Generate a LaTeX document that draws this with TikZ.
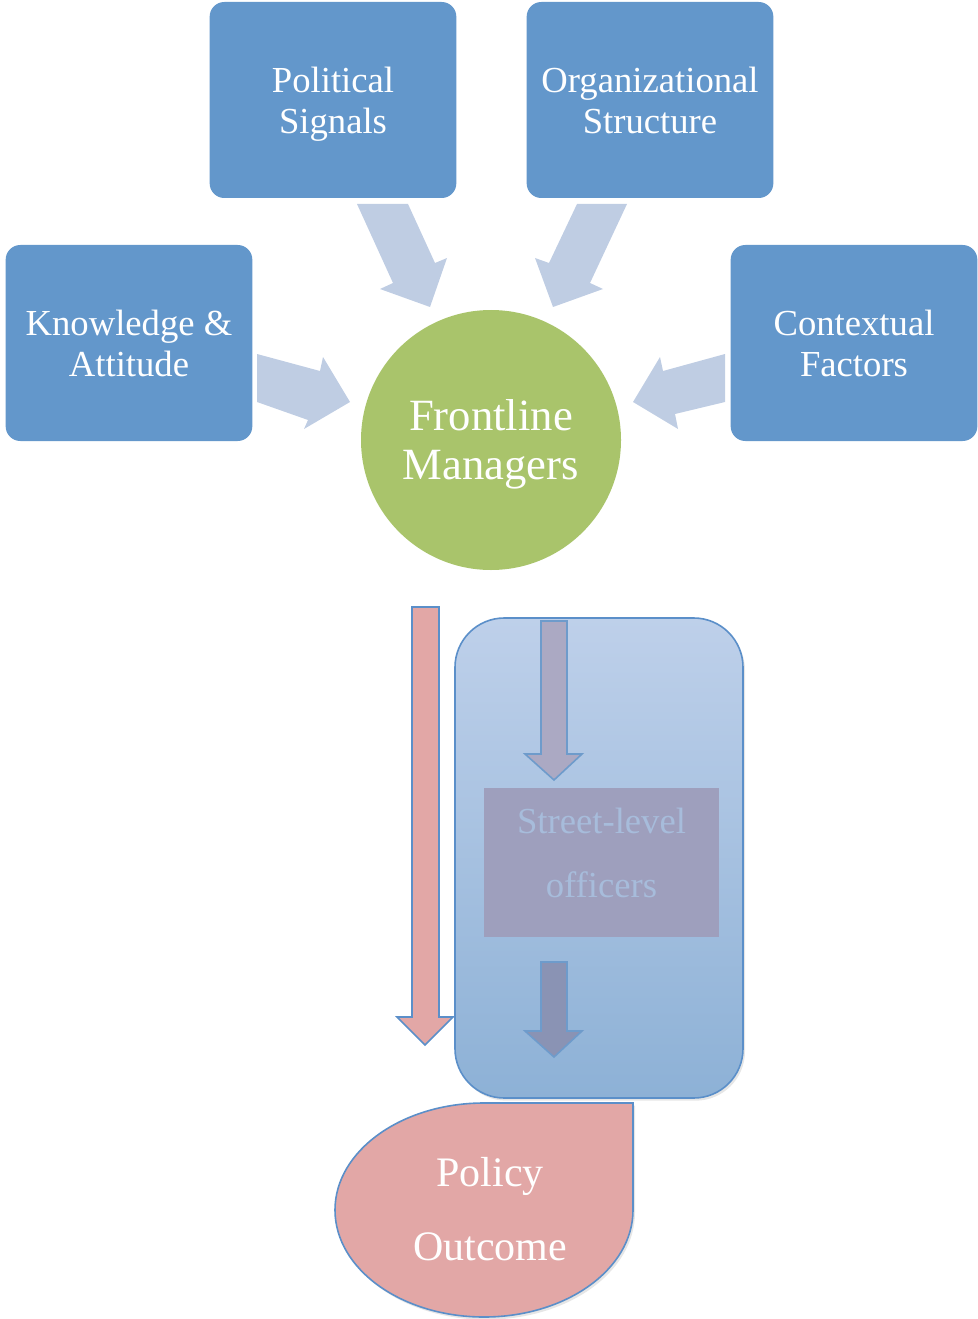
\documentclass[tikz,border=0pt]{standalone}
\usepackage{fontspec}
\setmainfont{Liberation Serif}
\usetikzlibrary{shadows}
\definecolor{boxblue}{HTML}{6397CB}
\definecolor{arrowblue}{HTML}{BFCDE3}
\definecolor{circgreen}{HTML}{A9C46B}
\definecolor{pinkfill}{HTML}{E2A7A6}
\definecolor{edgeblue}{HTML}{5B8FC9}
\definecolor{bigtop}{HTML}{BED0EA}
\definecolor{bigbot}{HTML}{8DB1D6}
\definecolor{innerA}{HTML}{ABA9C3}
\definecolor{innerB}{HTML}{8A93B4}
\definecolor{streetfill}{HTML}{9E9FBD}
\definecolor{streettext}{HTML}{A7BCDB}
\definecolor{inneredge}{HTML}{6E9BCB}
\tikzset{
  topbox/.style={rectangle, rounded corners=11pt, fill=boxblue, text=white,
    minimum width=185pt, minimum height=147pt, align=center, text depth=0pt,
    font=\fontsize{27.5}{30.75}\selectfont},
  blockarrow/.style={fill=arrowblue, draw=none},
  innerarrow/.style={draw=inneredge, line width=1.2pt, line join=miter}
}
\begin{document}
\begin{tikzpicture}[x=0.75pt,y=-0.75pt]
\useasboundingbox (0,0) rectangle (977,1319);

% top boxes
\node[topbox] (ps) at (333,100) {Political\\Signals};
\node[topbox] (os) at (650,100) {Organizational\\Structure};
\node[topbox] (ka) at (129,343) {Knowledge \&\\Attitude};
\node[topbox] (cf) at (854,343) {Contextual\\Factors};

% central circle
\node[circle, fill=circgreen, text=white, minimum size=195pt, inner sep=0pt, align=center,
  text depth=0pt, font=\fontsize{33.5}{36.75}\selectfont] (fm) at (491,440) {Frontline\\Managers};

% block arrows
\fill[blockarrow] (357,204) -- (408,204) -- (435,263) -- (447,258) -- (430,307) -- (380,289) -- (393,283) -- cycle;
\fill[blockarrow] (577,204) -- (627,204) -- (590,283) -- (603,289) -- (553,307) -- (535,258) -- (549,263) -- cycle;
\fill[blockarrow] (257,354) -- (320,371) -- (323,357) -- (350,402) -- (304,429) -- (308,420) -- (257,402) -- cycle;
\fill[blockarrow] (725,354) -- (663,371) -- (660,357) -- (633,402) -- (678,429) -- (675,414) -- (725,402) -- cycle;

% big rounded container
\node[draw=edgeblue, line width=1.2pt, rounded corners=37pt, top color=bigtop, bottom color=bigbot,
  minimum width=216pt, minimum height=360pt,
  drop shadow={shadow xshift=1.5pt, shadow yshift=-2pt, opacity=0.2}] (cont) at (599,858) {};

% pink long arrow
\draw[fill=pinkfill, draw=edgeblue, line width=1.2pt, line join=miter]
  (412,607) -- (439,607) -- (439,1017) -- (453,1017) -- (425,1045) -- (397,1017) -- (412,1017) -- cycle;

% inner arrows
\draw[innerarrow, fill=innerA] (541,621) -- (567,621) -- (567,754) -- (582,754) -- (554,780) -- (525,754) -- (541,754) -- cycle;
\draw[innerarrow, fill=innerB] (541,962) -- (567,962) -- (567,1031) -- (582,1031) -- (554,1057) -- (525,1031) -- (541,1031) -- cycle;

% street-level officers
\node[rectangle, fill=streetfill, text=streettext, minimum width=176pt, minimum height=112pt,
  align=center, text depth=15pt, font=\fontsize{27.5}{48}\selectfont] (slo) at (601.5,862.5) {Street-level\\officers};

% policy outcome teardrop
\draw[fill=pinkfill, draw=edgeblue, line width=1.2pt,
  drop shadow={shadow xshift=1.5pt, shadow yshift=-2pt, opacity=0.2}]
  (633,1103) -- (484,1103) .. controls (401.7,1103) and (335,1150.9) .. (335,1210)
  .. controls (335,1269.1) and (401.7,1317) .. (484,1317)
  .. controls (566.3,1317) and (633,1269.1) .. (633,1210) -- cycle;
\node[text=white, align=center, font=\fontsize{31.5}{55.5}\selectfont] (po) at (490,1209) {Policy\\Outcome};
\end{tikzpicture}
\end{document}
